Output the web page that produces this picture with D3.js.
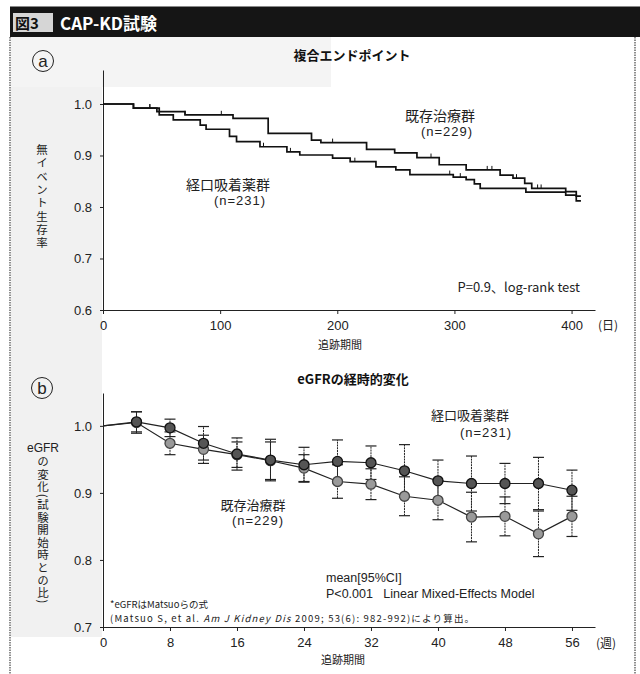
<!DOCTYPE html>
<html>
<head>
<meta charset="utf-8">
<script src="https://cdn.jsdelivr.net/npm/d3@7"></script>
<style>
  body { margin: 0; background: #fff; }
  text { font-family: "Liberation Sans", "Noto Sans CJK JP", sans-serif; }
  .jp { font-family: "Noto Sans CJK JP", sans-serif; }
  .vert { font-family: "Noto Sans CJK JP", sans-serif; writing-mode: vertical-rl; }
</style>
</head>
<body>
<svg id="chart" width="640" height="674"></svg>
<script>
// ---- Panel a: Kaplan–Meier event-free survival (days, survival) ----
const kmStdTimes  = [0, 26, 46, 70, 111, 141, 178, 186, 225, 249, 268, 287, 310, 339, 350, 360, 366, 395, 404, 408];
const kmStdSurv   = [1.0, 0.992, 0.985, 0.979, 0.972, 0.943, 0.930, 0.925, 0.912, 0.905, 0.896, 0.882, 0.872, 0.862, 0.856, 0.846, 0.836, 0.830, 0.821, 0.821];
const kmOralTimes = [0, 26, 48, 60, 83, 88, 108, 114, 134, 157, 168, 196, 211, 233, 250, 262, 299, 310, 317, 322, 361, 395, 404, 408];
const kmOralSurv  = [1.0, 0.992, 0.979, 0.969, 0.959, 0.951, 0.937, 0.927, 0.917, 0.907, 0.901, 0.895, 0.888, 0.878, 0.872, 0.863, 0.858, 0.853, 0.845, 0.836, 0.829, 0.823, 0.812, 0.812];
const censorStd   = [40, 70, 101, 178, 196, 225, 280, 328, 332, 353, 371, 374];
const censorOral  = [40, 137, 160, 215, 296, 305];
const dayTicks    = [0, 100, 200, 300, 400];
const survTicks   = [0.6, 0.7, 0.8, 0.9, 1.0];

// ---- Panel b: eGFR ratio to baseline, mean [95% CI] ----
const weeks      = [4, 8, 12, 16, 20, 24, 28, 32, 36, 40, 44, 48, 52, 56];
const oralMean   = [1.006, 0.997, 0.974, 0.958, 0.949, 0.942, 0.947, 0.945, 0.933, 0.918, 0.914, 0.914, 0.914, 0.904];
const oralHigh   = [1.021, 1.010, 0.999, 0.982, 0.980, 0.968, 0.979, 0.970, 0.972, 0.949, 0.955, 0.944, 0.953, 0.934];
const oralLow    = [0.991, 0.984, 0.949, 0.934, 0.918, 0.916, 0.915, 0.920, 0.894, 0.887, 0.873, 0.884, 0.875, 0.874];
const stdMean    = [1.005, 0.974, 0.965, 0.957, 0.948, 0.937, 0.917, 0.913, 0.895, 0.889, 0.864, 0.865, 0.839, 0.865];
const stdHigh    = [1.021, 0.991, 0.986, 0.976, 0.976, 0.957, 0.942, 0.936, 0.924, 0.918, 0.901, 0.894, 0.873, 0.895];
const stdLow     = [0.989, 0.957, 0.944, 0.938, 0.920, 0.917, 0.892, 0.890, 0.866, 0.860, 0.827, 0.836, 0.805, 0.835];
const weekTicks  = [0, 8, 16, 24, 32, 40, 48, 56];
const ratioTicks = [0.7, 0.8, 0.9, 1.0];

const svg = d3.select("#chart");

// ---- frame and header ----
svg.append("rect").attr("x", 11).attr("y", 37).attr("width", 91).attr("height", 600).attr("fill", "#f1f1f1");
svg.append("rect").attr("x", 11).attr("y", 37).attr("width", 320).attr("height", 50).attr("fill", "#f4f4f4");
svg.append("rect").attr("x", 10).attr("y", 6.5).attr("width", 630).attr("height", 30.5).attr("fill", "#151515");
svg.append("rect").attr("x", 13).attr("y", 13).attr("width", 40).attr("height", 19).attr("fill", "#d6d6d6");
svg.append("text").attr("class", "jp").attr("x", 15).attr("y", 29).attr("font-size", 15)
  .attr("font-weight", "bold").attr("fill", "#111").text("図3");
svg.append("text").attr("class", "jp").attr("x", 60).attr("y", 30).attr("font-size", 17)
  .attr("font-weight", "bold").attr("fill", "#fff").text("CAP-KD試験");
[10, 635].forEach(x => svg.append("line").attr("x1", x).attr("x2", x).attr("y1", 37).attr("y2", 674)
  .attr("stroke", "#444").attr("stroke-width", 1.2).attr("stroke-dasharray", "1.5,1"));

function circledLetter(cx, cy, letter) {
  svg.append("circle").attr("cx", cx).attr("cy", cy).attr("r", 10.5)
    .attr("fill", "none").attr("stroke", "#222").attr("stroke-width", 1);
  svg.append("text").attr("x", cx).attr("y", cy + 5.5).attr("text-anchor", "middle")
    .attr("font-size", 17).attr("fill", "#222").text(letter);
}

// vertical Japanese axis title, written top to bottom
function verticalLabel(str, x, yTop, size, spacing) {
  svg.append("text").attr("class", "vert").attr("x", x).attr("y", yTop)
    .attr("font-size", size).attr("letter-spacing", spacing).attr("fill", "#222").text(str);
}

function styleAxis(g, size) {
  g.selectAll("path.domain").attr("stroke", "#222").attr("stroke-width", 1);
  g.selectAll(".tick line").attr("stroke", "#222");
  g.selectAll(".tick text").attr("font-size", size).attr("fill", "#222")
    .attr("font-family", "'Liberation Sans', sans-serif");
}

// ================= Panel a =================
circledLetter(43, 61, "a");
svg.append("text").attr("class", "jp").attr("x", 352).attr("y", 60).attr("text-anchor", "middle")
  .attr("font-size", 13).attr("font-weight", "bold").attr("fill", "#111").text("複合エンドポイント");

const xa = d3.scaleLinear().domain([0, 420]).range([103, 595]);
const ya = d3.scaleLinear().domain([0.6, 1.066]).range([310, 70]);

const gxa = svg.append("g").attr("transform", "translate(0,310)")
  .call(d3.axisBottom(xa).tickValues(dayTicks).tickSize(4).tickSizeOuter(0).tickPadding(7));
styleAxis(gxa, 13);
const gya = svg.append("g").attr("transform", "translate(103,0)")
  .call(d3.axisLeft(ya).tickValues(survTicks).tickFormat(d3.format(".1f")).tickSize(3).tickSizeOuter(0).tickPadding(8));
styleAxis(gya, 13);

svg.append("text").attr("class", "jp").attr("x", 608).attr("y", 330).attr("text-anchor", "middle")
  .attr("font-size", 12).attr("fill", "#222").text("(日)");
svg.append("text").attr("class", "jp").attr("x", 340).attr("y", 349).attr("text-anchor", "middle")
  .attr("font-size", 11).attr("fill", "#222").text("追跡期間");
verticalLabel("無イベント生存率", 42, 144, 11.5, 1.8);

const kmLine = d3.line().x(d => xa(d[0])).y(d => ya(d[1])).curve(d3.curveStepAfter);
const stepAt = (times, surv, t) => surv[d3.bisectRight(times, t) - 1];

[[kmStdTimes, kmStdSurv, censorStd], [kmOralTimes, kmOralSurv, censorOral]].forEach(([tt, ss, cc]) => {
  svg.append("path").datum(d3.zip(tt, ss)).attr("d", kmLine)
    .attr("fill", "none").attr("stroke", "#111").attr("stroke-width", 1.7);
  svg.append("g").selectAll("line").data(cc).join("line")
    .attr("x1", d => xa(d)).attr("x2", d => xa(d))
    .attr("y1", d => ya(stepAt(tt, ss, d)) - 4).attr("y2", d => ya(stepAt(tt, ss, d)))
    .attr("stroke", "#111").attr("stroke-width", 1);
});

svg.append("text").attr("class", "jp").attr("x", 440).attr("y", 121).attr("text-anchor", "middle")
  .attr("font-size", 14).attr("fill", "#222").text("既存治療群");
svg.append("text").attr("x", 447).attr("y", 136).attr("text-anchor", "middle")
  .attr("font-size", 13).attr("letter-spacing", 1).attr("fill", "#222").text("(n=229)");
svg.append("text").attr("class", "jp").attr("x", 228).attr("y", 190).attr("text-anchor", "middle")
  .attr("font-size", 14).attr("fill", "#222").text("経口吸着薬群");
svg.append("text").attr("x", 240).attr("y", 205).attr("text-anchor", "middle")
  .attr("font-size", 13).attr("letter-spacing", 1).attr("fill", "#222").text("(n=231)");
svg.append("text").attr("class", "jp").attr("x", 580).attr("y", 292).attr("text-anchor", "end")
  .attr("font-size", 13).attr("fill", "#222").text("P=0.9、log-rank test");

// ================= Panel b =================
circledLetter(42, 388, "b");
svg.append("text").attr("class", "jp").attr("x", 353).attr("y", 384).attr("text-anchor", "middle")
  .attr("font-size", 13).attr("font-weight", "bold").attr("fill", "#111").text("eGFRの経時的変化");

const xb = d3.scaleLinear().domain([0, 58.75]).range([103, 595]);
const yb = d3.scaleLinear().domain([0.7, 1.049]).range([627, 393]);

const gxb = svg.append("g").attr("transform", "translate(0,627)")
  .call(d3.axisBottom(xb).tickValues(weekTicks).tickSize(4).tickSizeOuter(0).tickPadding(7));
styleAxis(gxb, 13);
const gyb = svg.append("g").attr("transform", "translate(103,0)")
  .call(d3.axisLeft(yb).tickValues(ratioTicks).tickFormat(d3.format(".1f")).tickSize(3).tickSizeOuter(0).tickPadding(8));
styleAxis(gyb, 13);

svg.append("text").attr("class", "jp").attr("x", 606).attr("y", 648).attr("text-anchor", "middle")
  .attr("font-size", 12).attr("fill", "#222").text("(週)");
svg.append("text").attr("class", "jp").attr("x", 343).attr("y", 664).attr("text-anchor", "middle")
  .attr("font-size", 11).attr("fill", "#222").text("追跡期間");
svg.append("text").attr("x", 43).attr("y", 452).attr("text-anchor", "middle")
  .attr("font-size", 12).attr("fill", "#222").text("eGFR");
verticalLabel("の変化(試験開始時との比)", 43, 456, 11.5, 1.1);

const series = [
  { mean: stdMean, low: stdLow, high: stdHigh, fill: "#9a9a9a", stroke: "#444" },
  { mean: oralMean, low: oralLow, high: oralHigh, fill: "#555", stroke: "#111" }
];
const lineB = d3.line().x(d => xb(d[0])).y(d => yb(d[1]));

series.forEach(s => {
  const g = svg.append("g");
  weeks.forEach((w, i) => {
    const x = xb(w);
    g.append("line").attr("x1", x).attr("x2", x).attr("y1", yb(s.low[i])).attr("y2", yb(s.high[i]))
      .attr("stroke", "#222").attr("stroke-width", 1).attr("stroke-dasharray", "2,0.8");
    [s.low[i], s.high[i]].forEach(v => g.append("line")
      .attr("x1", x - 5.5).attr("x2", x + 5.5).attr("y1", yb(v)).attr("y2", yb(v))
      .attr("stroke", "#222").attr("stroke-width", 1.2));
  });
});
series.forEach(s => {
  svg.append("path").datum([[0, 1.0]].concat(d3.zip(weeks, s.mean))).attr("d", lineB)
    .attr("fill", "none").attr("stroke", "#222").attr("stroke-width", 1.2);
});
series.forEach(s => {
  svg.append("g").selectAll("circle").data(d3.zip(weeks, s.mean)).join("circle")
    .attr("cx", d => xb(d[0])).attr("cy", d => yb(d[1])).attr("r", 5)
    .attr("fill", s.fill).attr("stroke", s.stroke).attr("stroke-width", 1.3);
});

svg.append("text").attr("class", "jp").attr("x", 470).attr("y", 420).attr("text-anchor", "middle")
  .attr("font-size", 13).attr("fill", "#222").text("経口吸着薬群");
svg.append("text").attr("x", 486).attr("y", 437).attr("text-anchor", "middle")
  .attr("font-size", 13).attr("letter-spacing", 1).attr("fill", "#222").text("(n=231)");
svg.append("text").attr("class", "jp").attr("x", 253).attr("y", 510).attr("text-anchor", "middle")
  .attr("font-size", 13).attr("fill", "#222").text("既存治療群");
svg.append("text").attr("x", 258).attr("y", 525).attr("text-anchor", "middle")
  .attr("font-size", 13).attr("letter-spacing", 1).attr("fill", "#222").text("(n=229)");

svg.append("text").attr("x", 326).attr("y", 582).attr("font-size", 12.5).attr("fill", "#222").text("mean[95%CI]");
svg.append("text").attr("x", 326).attr("y", 598).attr("font-size", 12.5).attr("fill", "#222")
  .attr("xml:space", "preserve").text("P<0.001   Linear Mixed-Effects Model");

svg.append("text").attr("class", "jp").attr("x", 110).attr("y", 608).attr("font-size", 9.5).attr("fill", "#222")
  .text("*eGFRはMatsuoらの式");
const fn = svg.append("text").attr("class", "jp").attr("x", 110).attr("y", 622).attr("font-size", 9.5)
  .attr("letter-spacing", 1.2).attr("fill", "#222");
fn.append("tspan").text("(Matsuo S, et al. ");
fn.append("tspan").attr("font-style", "italic").text("Am J Kidney Dis");
fn.append("tspan").text(" 2009; 53(6): 982-992)により算出。");
</script>
</body>
</html>
